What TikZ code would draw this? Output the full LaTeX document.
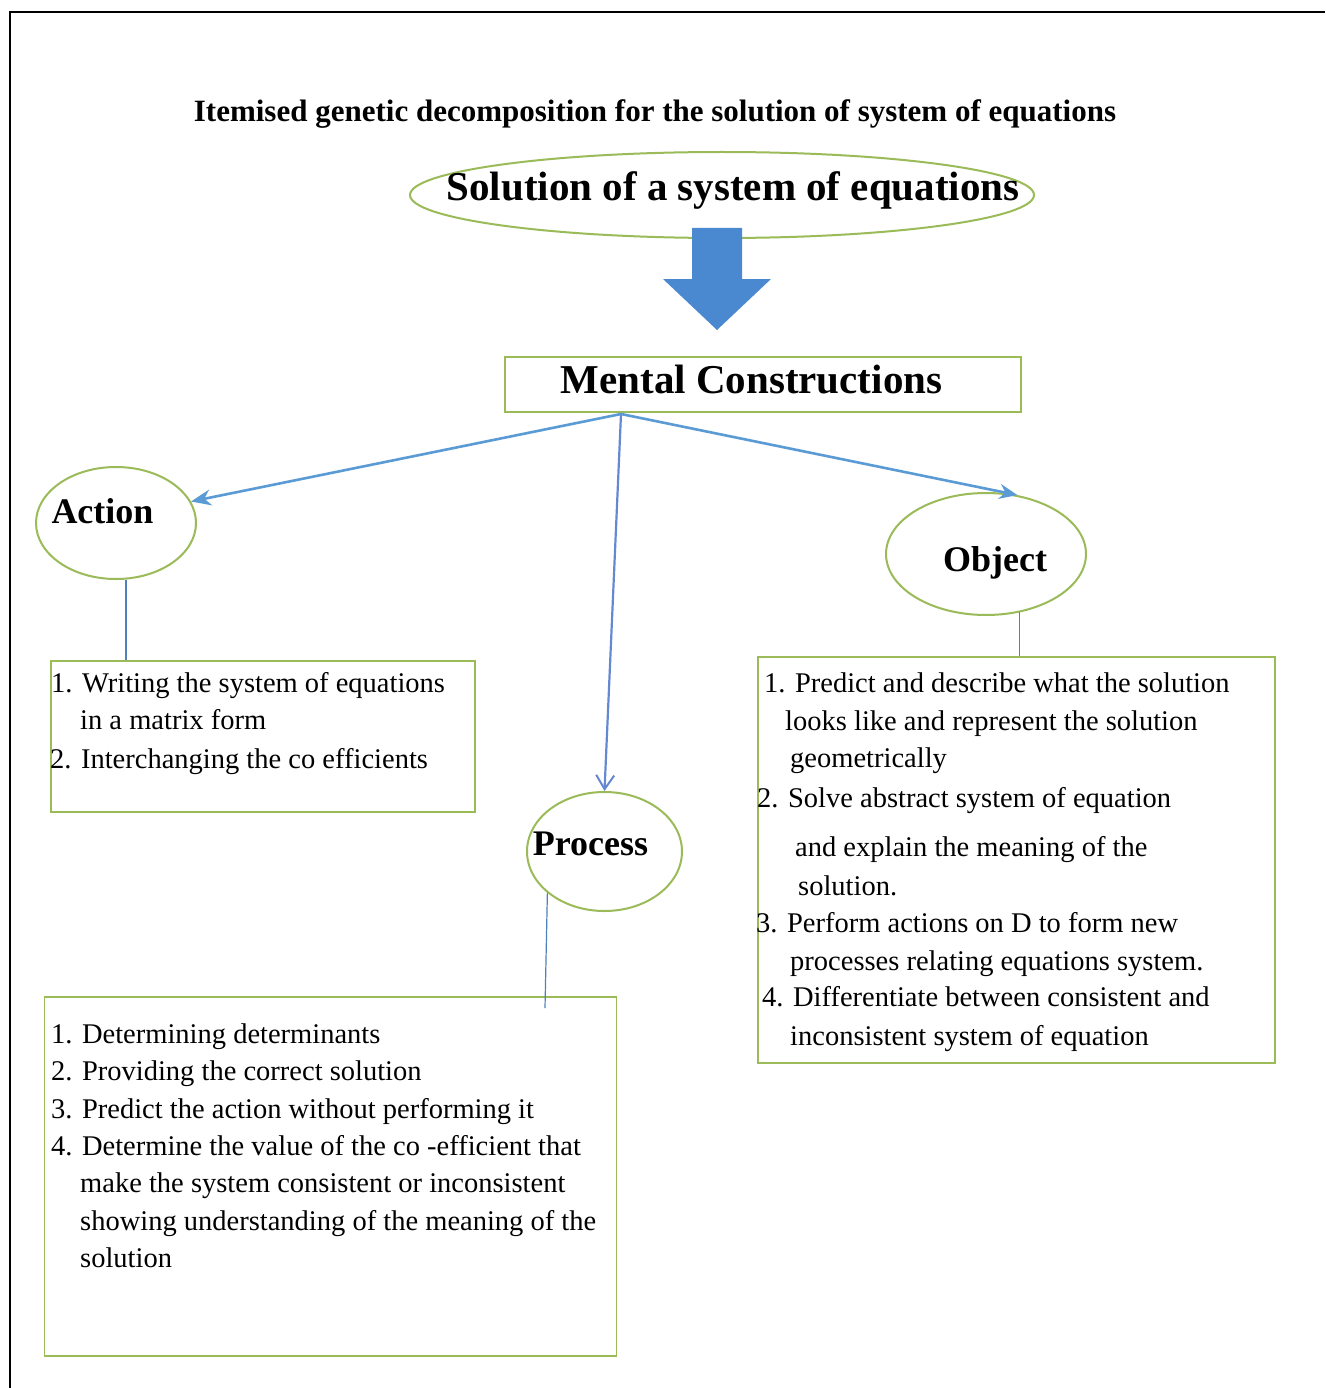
\documentclass[tikz,border=0pt]{standalone}
\usepackage{fontspec}
\setmainfont{Liberation Serif}
\usetikzlibrary{arrows.meta,shapes.geometric}
\definecolor{olive}{HTML}{9BBB59}
\definecolor{arrowblue}{HTML}{5B9BD5}
\definecolor{blockblue}{HTML}{4A88D0}
\definecolor{lineblue}{HTML}{4F81BD}
\definecolor{barbblue}{HTML}{6A80D0}
\tikzset{
  x=1pt, y=-1pt,
  oval/.style={ellipse, draw=olive, line width=2pt, inner sep=0pt},
  frame/.style={draw=olive, line width=1.6pt, inner sep=0pt},
  heading/.style={font=\fontsize{36}{40}\selectfont\bfseries, inner sep=0pt, anchor=base},
  ln/.style={font=\fontsize{28.5}{34}\selectfont, inner sep=0pt, anchor=base west},
  conn/.style={draw=arrowblue, line width=2.6pt},
  thin/.style={draw=lineblue, line width=1.2pt},
}
\begin{document}
\begin{tikzpicture}
\useasboundingbox (0,0) rectangle (1325,1388);
\fill[white] (0,0) rectangle (1325,1388);
% outer frame (top and left edges visible)
\draw[black, line width=1.6pt] (10,1388) -- (10,12) -- (1325,12);

% title
\node[font=\fontsize{31}{35}\selectfont\bfseries, inner sep=0pt, anchor=base] (title) at (655,122) {Itemised genetic decomposition for the solution of system of equations};

% top ellipse
\node[oval, minimum width=624pt, minimum height=86pt] (sol) at (722,195) {};
\node[font=\fontsize{41}{46}\selectfont\bfseries, inner sep=0pt, anchor=base] (soltxt) at (733,201) {Solution of a system of equations};

% block arrow
\fill[blockblue] (692,228) -- (742,228) -- (742,279) -- (771,279) -- (717,330) -- (663,279) -- (692,279) -- cycle;
\coordinate (blk) at (717,330);

% mental constructions box
\node[frame, minimum width=516pt, minimum height=55pt] (mc) at (763,384.5) {};
\node[font=\fontsize{41}{46}\selectfont\bfseries, inner sep=0pt, anchor=base] (mctxt) at (751.5,393) {Mental Constructions};
\coordinate (hub) at (621,414);

% ellipses
\node[oval, minimum width=160pt, minimum height=112pt] (acte) at (116,523) {};
\node[heading] (acttxt) at (102.5,523) {Action};
\node[oval, minimum width=155pt, minimum height=119pt] (proce) at (604.5,851.5) {};
\node[heading] (proctxt) at (590.5,855) {Process};
\node[oval, minimum width=200pt, minimum height=122pt] (obje) at (986,554) {};
\node[heading] (objtxt) at (995,571.5) {Object};

% arrows from hub
\draw[conn, -{Stealth[length=20pt, width=16pt]}] (hub) -- (acte.16);
\draw[conn, line width=2.2pt, draw=barbblue!70!arrowblue, -{Straight Barb[length=14pt, width=18pt, line width=2pt]}] (hub) -- (proce.north);
\draw[conn, -{Stealth[length=18pt, width=15pt]}] (hub) -- (obje.62);

% boxes
\node[frame, minimum width=424pt, minimum height=151pt] (actbox) at (263,736.5) {};
\node[frame, minimum width=572pt, minimum height=359pt] (procbox) at (330.5,1176.5) {};
\node[frame, minimum width=517pt, minimum height=406pt] (objbox) at (1016.5,860) {};

% connectors ellipse -> box
\draw[thin] (acte.-80) -- (acte.-80 |- actbox.north);
\draw[thin] (obje.-60) -- (obje.-60 |- objbox.north);
\coordinate (pend) at (545,1008);
\draw[thin] (proce.216) -- (pend);

% action box text
\node[ln] (a1) at (51,692) {1. Writing the system of equations};
\node[ln] (a2) at (80,729) {in a matrix form};
\node[ln] (a3) at (50,768) {2. Interchanging the co efficients};

% process box text
\node[ln] (p1) at (51,1043) {1. Determining determinants};
\node[ln] (p2) at (51,1080) {2. Providing the correct solution};
\node[ln] (p3) at (51,1118) {3. Predict the action without performing it};
\node[ln] (p4) at (51,1155) {4. Determine the value of the co -efficient that};
\node[ln] (p5) at (80,1192) {make the system consistent or inconsistent};
\node[ln] (p6) at (80,1230) {showing understanding of the meaning of the};
\node[ln] (p7) at (80,1267) {solution};

% object box text
\node[ln] (o1) at (764,692) {1. Predict and describe what the solution};
\node[ln] (o2) at (785,730) {looks like and represent the solution};
\node[ln] (o3) at (790,767) {geometrically};
\node[ln] (o4) at (757,807) {2. Solve abstract system of equation};
\node[ln] (o5) at (795,856) {and explain the meaning of the};
\node[ln] (o6) at (798,895) {solution.};
\node[ln] (o7) at (756,932) {3. Perform actions on D to form new};
\node[ln] (o8) at (790,970) {processes relating equations system.};
\node[ln] (o9) at (762,1006) {4. Differentiate between consistent and};
\node[ln] (o10) at (790,1045) {inconsistent system of equation};
\end{tikzpicture}
\end{document}
